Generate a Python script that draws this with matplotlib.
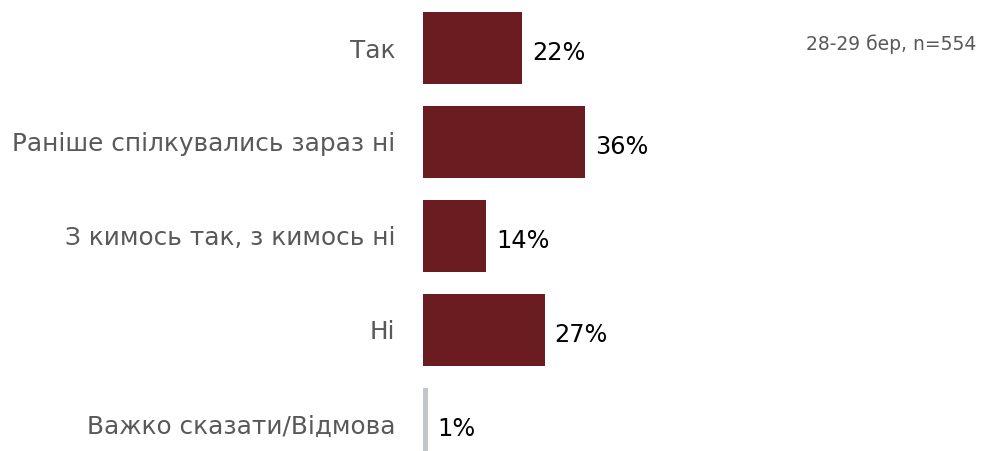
import numpy as np
import matplotlib.pyplot as plt

# survey answers, top to bottom
categories = ['Так', 'Раніше спілкувались зараз ні', 'З кимось так, з кимось ні', 'Ні', 'Важко сказати/Відмова']
values = [22, 36, 14, 27, 1]
value_labels = ['22%', '36%', '14%', '27%', '1%']
note = '28-29 бер, n=554'

bar_colors = ['#6b1c21'] * 4 + ['#c3c6ca']

fig = plt.figure(figsize=(9.85, 4.51), dpi=100)
ax = fig.add_axes([423/985, 0, 562/985, 1])

y = np.arange(len(categories))
ax.barh(y, values, height=0.77, color=bar_colors)

ax.set_xlim(0, 562/4.5)
ax.set_ylim((451-48)/94, -48/94)

for yi, v, lab in zip(y, values, value_labels):
    ax.text(v + 2.2, yi + 0.05, lab, va='center', ha='left', fontsize=17.3, color='black')

ax.set_yticks(y)
ax.set_yticklabels(categories, fontsize=17.8, color='#595959')
ax.tick_params(axis='y', length=0, pad=20)
ax.set_xticks([])
for s in ax.spines.values():
    s.set_visible(False)

fig.text(976/985, 1 - 44/451, note, ha='right', va='center', fontsize=13.5, color='#595959')

fig.savefig('out.png', dpi=100)
